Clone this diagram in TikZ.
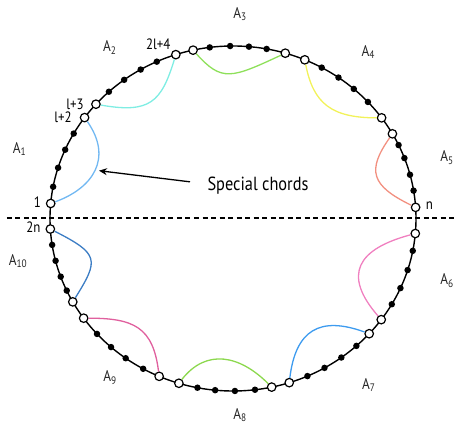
\documentclass[tikz,border=0pt]{standalone}
\usepackage{fontspec}
\setmainfont{PT Sans}[FakeStretch=0.86]
\usetikzlibrary{arrows.meta}

\definecolor{chordA}{RGB}{114,184,242}
\definecolor{chordB}{RGB}{127,237,227}
\definecolor{chordC}{RGB}{142,224,90}
\definecolor{chordD}{RGB}{242,242,90}
\definecolor{chordE}{RGB}{242,144,128}
\definecolor{chordF}{RGB}{240,128,192}
\definecolor{chordG}{RGB}{61,155,239}
\definecolor{chordH}{RGB}{140,216,78}
\definecolor{chordI}{RGB}{224,96,158}
\definecolor{chordJ}{RGB}{60,125,196}

\begin{document}
\begin{tikzpicture}[x=1pt, y=1pt,
    ring/.style={draw=black, line width=1.4pt},
    soliddot/.style={circle, fill=black, inner sep=0pt, minimum size=6.5pt},
    hollowdot/.style={circle, draw=black, fill=white, line width=1.2pt,
                      inner sep=0pt, minimum size=8.5pt},
    chord/.style={line width=1.3pt},
    cutline/.style={line width=2.2pt, dash pattern=on 5pt off 3.5pt},
    arclbl/.style={font=\fontsize{15.5}{17}\selectfont, text=black!85},
    numlbl/.style={font=\fontsize{15}{17}\selectfont, anchor=base, inner sep=0pt},
    pointer/.style={-{Stealth[length=8pt, width=7pt]}, line width=1.3pt}
]
\useasboundingbox (-233,-206.5) rectangle (222,218.5);

%% Ring and the cut between the two halves %%
\draw[ring] (0,0) ellipse [x radius=183pt, y radius=172.5pt];
\coordinate (cutL) at (-226,0.5);
\coordinate (cutR) at (222,0.5);
\draw[cutline] (cutL) -- (cutR);

%% Points on the ring (ends of each arc are hollow) %%

% Upper half: 1 ... n
\foreach \k/\a in {0/175, 1/169.4, 2/162.9, 3/156.5, 4/150.5, 5/144.2,
                   6/138.5, 7/132.7, 8/126.5, 9/120.3, 10/114.6, 11/108.2,
                   12/102.6, 13/97.3, 14/90.9, 15/85.0, 16/79.4, 17/73.4,
                   18/66.9, 19/61.0, 20/54.8, 21/48.7, 22/42.5, 23/35.7,
                   24/29.4, 25/25.2, 26/20.5, 27/14.7, 28/9.3, 29/3.7} {
  \pgfmathtruncatemacro{\rem}{mod(\k,6)}
  \ifnum\rem=0 \def\dotsty{hollowdot}\else
    \ifnum\rem=5 \def\dotsty{hollowdot}\else\def\dotsty{soliddot}\fi\fi
  \node[\dotsty] (u\k) at (\a:183pt and 172.5pt) {};
}

% Lower half: 2n ... n+1
\foreach \k/\a in {0/183.5, 1/188.8, 2/194.2, 3/199.7, 4/204.7, 5/208.9,
                   6/215.3, 7/222.0, 8/228.2, 9/234.1, 10/240.6, 11/246.2,
                   12/252.8, 13/258.8, 14/264.4, 15/270.6, 16/276.9, 17/282.2,
                   18/287.9, 19/294.0, 20/300.0, 21/306.3, 22/312.4, 23/318.1,
                   24/324.1, 25/330.2, 26/336.2, 27/342.6, 28/349.2, 29/355.0} {
  \pgfmathtruncatemacro{\rem}{mod(\k,6)}
  \ifnum\rem=0 \def\dotsty{hollowdot}\else
    \ifnum\rem=5 \def\dotsty{hollowdot}\else\def\dotsty{soliddot}\fi\fi
  \node[\dotsty] (w\k) at (\a:183pt and 172.5pt) {};
}

%% Special chords %%

% upper half
\draw[chord, draw=chordA] (u0)  to[out=20,  in=-55,  out distance=40pt, in distance=45pt] (u5);
\draw[chord, draw=chordB] (u6)  to[out=-10, in=-107, out distance=50pt, in distance=45pt] (u11);
\draw[chord, draw=chordC] (u12) to[out=-48, in=-155, out distance=38pt, in distance=55pt] (u17);
\draw[chord, draw=chordD] (u18) to[out=-79, in=180,  out distance=40pt, in distance=45pt] (u23);
\draw[chord, draw=chordE] (u24) to[out=-125,in=154,  out distance=40pt, in distance=45pt] (u29);

% lower half
\draw[chord, draw=chordJ] (w0)  to[out=-27, in=58,   out distance=50pt, in distance=45pt] (w5);
\draw[chord, draw=chordI] (w6)  to[out=0,   in=97,   out distance=45pt, in distance=45pt] (w11);
\draw[chord, draw=chordH] (w12) to[out=52,  in=135,  out distance=40pt, in distance=40pt] (w17);
\draw[chord, draw=chordG] (w18) to[out=83,  in=160,  out distance=48pt, in distance=48pt] (w23);
\draw[chord, draw=chordF] (w29) to[out=195, in=131,  out distance=55pt, in distance=55pt] (w24);

%% Arc labels %%
\node[arclbl] (lA1)  at (-213.5, 69.5)  {A\textsubscript{1}};
\node[arclbl] (lA2)  at (-123.3, 171.3) {A\textsubscript{2}};
\node[arclbl] (lA3)  at (7, 204.5)      {A\textsubscript{3}};
\node[arclbl] (lA4)  at (135.3, 166.5)  {A\textsubscript{4}};
\node[arclbl] (lA5)  at (214, 61)       {A\textsubscript{5}};
\node[arclbl] (lA6)  at (214, -62)      {A\textsubscript{6}};
\node[arclbl] (lA7)  at (135.7, -166.5) {A\textsubscript{7}};
\node[arclbl] (lA8)  at (7, -196.5)     {A\textsubscript{8}};
\node[arclbl] (lA9)  at (-123, -159)    {A\textsubscript{9}};
\node[arclbl] (lA10) at (-215, -42.5)   {A\textsubscript{10}};

%% Point numbers %%
\node[numlbl] (n1)   at (-195.5, 10.8)  {1};
\node[numlbl] (n2n)  at (-199.7, -13.8) {2n};
\node[numlbl] (nn)   at (196.3, 8.5)    {n};
\node[numlbl] (nl2)  at (-170, 96.2)    {l+2};
\node[numlbl] (nl3)  at (-158, 108.5)   {l+3};
\node[numlbl] (n2l4) at (-74.7, 168.5)  {2l+4};

%% Pointer to the chords %%
\node[font=\fontsize{19}{21}\selectfont, anchor=base] (spc) at (25, 27.8) {Special chords};
\coordinate (tip) at (-134, 47.8);
\draw[pointer] ([xshift=-14pt, yshift=4pt]spc.west) -- (tip);

\end{tikzpicture}
\end{document}
